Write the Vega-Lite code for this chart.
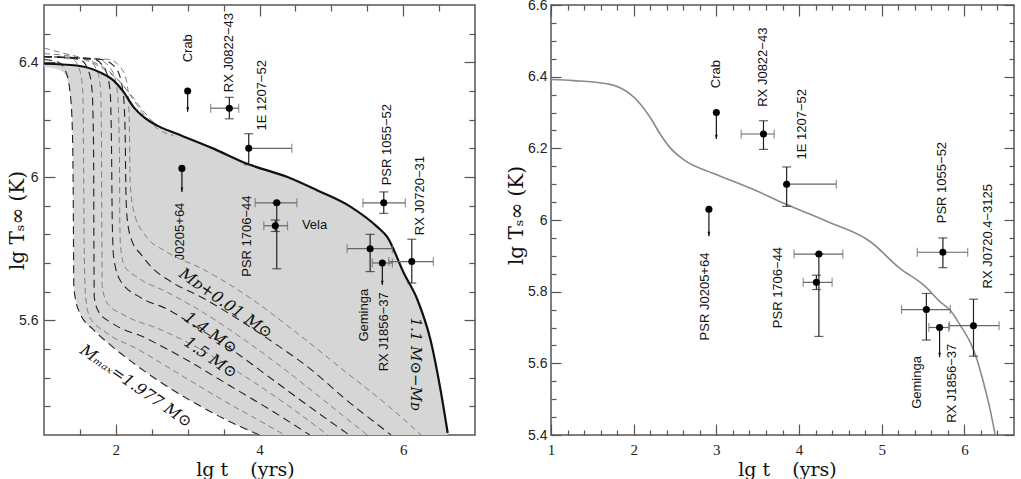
{
  "$schema": "https://vega.github.io/schema/vega-lite/v6.json",
  "padding": {"left": 6, "top": -3, "right": 0, "bottom": 0},
  "background": "white",
  "bounds": "flush",
  "spacing": 76,
  "config": {
    "view": {"stroke": "#555", "strokeWidth": 1.5},
    "axis": {"domain": false, "grid": false, "tickColor": "#555", "tickWidth": 1.2, "labelColor": "#222", "titleColor": "#111", "titleFontWeight": "normal", "labelFlush": false, "labelOverlap": false, "labelBound": false}
  },
  "datasets": {
    "leftCurve": [
      {"x": 1.0, "y": 6.395}, {"x": 1.455, "y": 6.389}, {"x": 1.78, "y": 6.365}, {"x": 1.97, "y": 6.336}, {"x": 2.11, "y": 6.296}, {"x": 2.25, "y": 6.243}, {"x": 2.39, "y": 6.209}, {"x": 2.57, "y": 6.18}, {"x": 2.85, "y": 6.151}, {"x": 3.36, "y": 6.099}, {"x": 3.83, "y": 6.046}, {"x": 4.39, "y": 6.0}, {"x": 4.8, "y": 5.954}, {"x": 5.27, "y": 5.896}, {"x": 5.64, "y": 5.826}, {"x": 5.78, "y": 5.79}, {"x": 6.01, "y": 5.664}, {"x": 6.2, "y": 5.571}, {"x": 6.38, "y": 5.432}, {"x": 6.52, "y": 5.258}, {"x": 6.62, "y": 5.107}
    ],
    "leftShade": [
      {"x": 1.0, "y": 6.395, "y2": 6.385}, {"x": 1.2, "y": 6.392, "y2": 6.375}, {"x": 1.3, "y": 6.391, "y2": 6.355}, {"x": 1.36, "y": 6.39, "y2": 6.3}, {"x": 1.39, "y": 6.39, "y2": 6.2}, {"x": 1.405, "y": 6.389, "y2": 6.0}, {"x": 1.41, "y": 6.389, "y2": 5.8}, {"x": 1.415, "y": 6.389, "y2": 5.62}, {"x": 1.455, "y": 6.389, "y2": 5.555}, {"x": 1.5, "y": 6.388, "y2": 5.525}, {"x": 1.69, "y": 6.372, "y2": 5.467}, {"x": 1.78, "y": 6.365, "y2": 5.448}, {"x": 1.92, "y": 6.342, "y2": 5.415}, {"x": 1.97, "y": 6.336, "y2": 5.405}, {"x": 2.11, "y": 6.296, "y2": 5.378}, {"x": 2.25, "y": 6.243, "y2": 5.35}, {"x": 2.39, "y": 6.209, "y2": 5.326}, {"x": 2.57, "y": 6.18, "y2": 5.295}, {"x": 2.71, "y": 6.165, "y2": 5.27}, {"x": 2.85, "y": 6.151, "y2": 5.25}, {"x": 3.18, "y": 6.117, "y2": 5.2}, {"x": 3.36, "y": 6.099, "y2": 5.177}, {"x": 3.64, "y": 6.069, "y2": 5.14}, {"x": 3.83, "y": 6.046, "y2": 5.118}, {"x": 4.0, "y": 6.03, "y2": 5.1}, {"x": 4.39, "y": 6.0, "y2": 5.1}, {"x": 4.8, "y": 5.954, "y2": 5.1}, {"x": 5.27, "y": 5.896, "y2": 5.1}, {"x": 5.64, "y": 5.826, "y2": 5.1}, {"x": 5.78, "y": 5.79, "y2": 5.1}, {"x": 6.01, "y": 5.664, "y2": 5.1}, {"x": 6.2, "y": 5.571, "y2": 5.1}, {"x": 6.38, "y": 5.432, "y2": 5.1}, {"x": 6.52, "y": 5.258, "y2": 5.1}, {"x": 6.62, "y": 5.107, "y2": 5.1}
    ],
    "leftDashDark": [
      {"id": "Mmax", "x": 1.0, "y": 6.41}, {"id": "Mmax", "x": 1.2, "y": 6.4}, {"id": "Mmax", "x": 1.3, "y": 6.37}, {"id": "Mmax", "x": 1.36, "y": 6.3}, {"id": "Mmax", "x": 1.39, "y": 6.2}, {"id": "Mmax", "x": 1.405, "y": 6.0}, {"id": "Mmax", "x": 1.41, "y": 5.8}, {"id": "Mmax", "x": 1.415, "y": 5.62}, {"id": "Mmax", "x": 1.45, "y": 5.56}, {"id": "Mmax", "x": 1.5, "y": 5.525}, {"id": "Mmax", "x": 1.69, "y": 5.467}, {"id": "Mmax", "x": 1.92, "y": 5.415}, {"id": "Mmax", "x": 2.25, "y": 5.35}, {"id": "Mmax", "x": 2.71, "y": 5.27}, {"id": "Mmax", "x": 3.18, "y": 5.2}, {"id": "Mmax", "x": 3.64, "y": 5.14}, {"id": "Mmax", "x": 4.0, "y": 5.1},
      {"id": "MD", "x": 1.0, "y": 6.42}, {"id": "MD", "x": 1.8, "y": 6.41}, {"id": "MD", "x": 2.0, "y": 6.38}, {"id": "MD", "x": 2.1, "y": 6.3}, {"id": "MD", "x": 2.13, "y": 6.15}, {"id": "MD", "x": 2.14, "y": 5.95}, {"id": "MD", "x": 2.16, "y": 5.85}, {"id": "MD", "x": 2.22, "y": 5.78}, {"id": "MD", "x": 2.35, "y": 5.73}, {"id": "MD", "x": 2.48, "y": 5.69}, {"id": "MD", "x": 2.8, "y": 5.63}, {"id": "MD", "x": 3.2, "y": 5.58}, {"id": "MD", "x": 3.6, "y": 5.52}, {"id": "MD", "x": 4.15, "y": 5.43}, {"id": "MD", "x": 4.71, "y": 5.33}, {"id": "MD", "x": 5.22, "y": 5.22}, {"id": "MD", "x": 5.78, "y": 5.11}, {"id": "MD", "x": 5.83, "y": 5.1},
      {"id": "M14", "x": 1.0, "y": 6.42}, {"id": "M14", "x": 1.7, "y": 6.41}, {"id": "M14", "x": 1.86, "y": 6.37}, {"id": "M14", "x": 1.92, "y": 6.3}, {"id": "M14", "x": 1.94, "y": 6.1}, {"id": "M14", "x": 1.95, "y": 5.85}, {"id": "M14", "x": 1.97, "y": 5.72}, {"id": "M14", "x": 2.06, "y": 5.64}, {"id": "M14", "x": 2.34, "y": 5.58}, {"id": "M14", "x": 2.71, "y": 5.54}, {"id": "M14", "x": 3.1, "y": 5.48}, {"id": "M14", "x": 3.6, "y": 5.4}, {"id": "M14", "x": 4.2, "y": 5.29}, {"id": "M14", "x": 4.8, "y": 5.18}, {"id": "M14", "x": 5.25, "y": 5.1},
      {"id": "M15", "x": 1.0, "y": 6.42}, {"id": "M15", "x": 1.5, "y": 6.41}, {"id": "M15", "x": 1.62, "y": 6.37}, {"id": "M15", "x": 1.67, "y": 6.3}, {"id": "M15", "x": 1.69, "y": 6.1}, {"id": "M15", "x": 1.695, "y": 5.75}, {"id": "M15", "x": 1.7, "y": 5.58}, {"id": "M15", "x": 1.76, "y": 5.53}, {"id": "M15", "x": 1.95, "y": 5.49}, {"id": "M15", "x": 2.4, "y": 5.44}, {"id": "M15", "x": 3.0, "y": 5.36}, {"id": "M15", "x": 3.6, "y": 5.27}, {"id": "M15", "x": 4.2, "y": 5.18}, {"id": "M15", "x": 4.7, "y": 5.1}
    ],
    "leftDashGray": [
      {"id": "e", "x": 1.0, "y": 6.42}, {"id": "e", "x": 1.6, "y": 6.41}, {"id": "e", "x": 1.74, "y": 6.37}, {"id": "e", "x": 1.79, "y": 6.3}, {"id": "e", "x": 1.8, "y": 6.1}, {"id": "e", "x": 1.805, "y": 5.8}, {"id": "e", "x": 1.81, "y": 5.62}, {"id": "e", "x": 1.88, "y": 5.56}, {"id": "e", "x": 2.1, "y": 5.52}, {"id": "e", "x": 2.6, "y": 5.47}, {"id": "e", "x": 3.1, "y": 5.41}, {"id": "e", "x": 3.7, "y": 5.32}, {"id": "e", "x": 4.3, "y": 5.22}, {"id": "e", "x": 4.95, "y": 5.1},
      {"id": "f", "x": 1.0, "y": 6.42}, {"id": "f", "x": 1.75, "y": 6.41}, {"id": "f", "x": 1.95, "y": 6.37}, {"id": "f", "x": 2.02, "y": 6.3}, {"id": "f", "x": 2.05, "y": 6.1}, {"id": "f", "x": 2.055, "y": 5.85}, {"id": "f", "x": 2.065, "y": 5.76}, {"id": "f", "x": 2.12, "y": 5.69}, {"id": "f", "x": 2.3, "y": 5.65}, {"id": "f", "x": 2.7, "y": 5.6}, {"id": "f", "x": 3.2, "y": 5.53}, {"id": "f", "x": 3.8, "y": 5.43}, {"id": "f", "x": 4.5, "y": 5.3}, {"id": "f", "x": 5.05, "y": 5.19}, {"id": "f", "x": 5.5, "y": 5.1},
      {"id": "d", "x": 1.0, "y": 6.42}, {"id": "d", "x": 1.4, "y": 6.41}, {"id": "d", "x": 1.5, "y": 6.37}, {"id": "d", "x": 1.54, "y": 6.3}, {"id": "d", "x": 1.55, "y": 6.1}, {"id": "d", "x": 1.56, "y": 5.75}, {"id": "d", "x": 1.58, "y": 5.58}, {"id": "d", "x": 1.64, "y": 5.51}, {"id": "d", "x": 1.85, "y": 5.46}, {"id": "d", "x": 2.3, "y": 5.4}, {"id": "d", "x": 2.9, "y": 5.31}, {"id": "d", "x": 3.5, "y": 5.22}, {"id": "d", "x": 4.0, "y": 5.15}, {"id": "d", "x": 4.35, "y": 5.1},
      {"id": "h", "x": 1.0, "y": 6.42}, {"id": "h", "x": 1.9, "y": 6.41}, {"id": "h", "x": 2.1, "y": 6.37}, {"id": "h", "x": 2.17, "y": 6.3}, {"id": "h", "x": 2.19, "y": 6.15}, {"id": "h", "x": 2.2, "y": 5.98}, {"id": "h", "x": 2.25, "y": 5.88}, {"id": "h", "x": 2.4, "y": 5.8}, {"id": "h", "x": 2.7, "y": 5.74}, {"id": "h", "x": 3.2, "y": 5.68}, {"id": "h", "x": 3.8, "y": 5.59}, {"id": "h", "x": 4.5, "y": 5.46}, {"id": "h", "x": 5.2, "y": 5.32}, {"id": "h", "x": 5.8, "y": 5.2}, {"id": "h", "x": 6.25, "y": 5.1},
      {"id": "u1", "x": 1.0, "y": 6.45}, {"id": "u1", "x": 1.3, "y": 6.43}, {"id": "u1", "x": 1.6, "y": 6.41}, {"id": "u1", "x": 1.9, "y": 6.37}, {"id": "u1", "x": 2.1, "y": 6.32}, {"id": "u1", "x": 2.3, "y": 6.25}, {"id": "u1", "x": 2.45, "y": 6.2}, {"id": "u1", "x": 2.6, "y": 6.165}, {"id": "u1", "x": 2.8, "y": 6.145},
      {"id": "u2", "x": 1.0, "y": 6.43}, {"id": "u2", "x": 1.4, "y": 6.42}, {"id": "u2", "x": 1.7, "y": 6.395}, {"id": "u2", "x": 2.0, "y": 6.345}, {"id": "u2", "x": 2.2, "y": 6.29}, {"id": "u2", "x": 2.4, "y": 6.225}, {"id": "u2", "x": 2.55, "y": 6.185}, {"id": "u2", "x": 2.7, "y": 6.16}
    ],
    "leftPts": [
      {"x": 3.0, "y": 6.3}, {"x": 3.58, "y": 6.24}, {"x": 3.85, "y": 6.1}, {"x": 2.92, "y": 6.03}, {"x": 4.24, "y": 5.91}, {"x": 4.22, "y": 5.83}, {"x": 5.73, "y": 5.91}, {"x": 5.54, "y": 5.75}, {"x": 5.71, "y": 5.7}, {"x": 6.12, "y": 5.705}
    ],
    "leftXerr": [
      {"x": 3.32, "x2": 3.71, "y": 6.24}, {"x": 3.85, "x2": 4.45, "y": 6.1}, {"x": 3.94, "x2": 4.52, "y": 5.91}, {"x": 4.06, "x2": 4.39, "y": 5.83}, {"x": 5.44, "x2": 6.03, "y": 5.91}, {"x": 5.22, "x2": 5.85, "y": 5.75}, {"x": 5.57, "x2": 5.85, "y": 5.7}, {"x": 5.8, "x2": 6.42, "y": 5.705}
    ],
    "leftYerr": [
      {"x": 3.58, "y": 6.203, "y2": 6.278}, {"x": 3.85, "y": 6.043, "y2": 6.151}, {"x": 4.24, "y": 5.68, "y2": 5.91}, {"x": 4.22, "y": 5.81, "y2": 5.85}, {"x": 5.73, "y": 5.873, "y2": 5.948}, {"x": 5.54, "y": 5.67, "y2": 5.8}, {"x": 6.12, "y": 5.63, "y2": 5.783}
    ],
    "leftArrows": [
      {"x": 3.0, "y": 6.3, "y2": 6.228}, {"x": 2.92, "y": 6.03, "y2": 5.948}, {"x": 5.71, "y": 5.7, "y2": 5.623}
    ],
    "leftLabels": [
      {"x": 3.0, "y": 6.4, "label": "Crab"}, {"x": 3.57, "y": 6.296, "label": "RX J0822−43"}, {"x": 4.03, "y": 6.162, "label": "1E 1207−52"}, {"x": 2.9, "y": 5.71, "label": "J0205+64"}, {"x": 3.83, "y": 5.652, "label": "PSR 1706−44"}, {"x": 5.77, "y": 5.971, "label": "PSR 1055−52"}, {"x": 6.24, "y": 5.797, "label": "RX J0720−31"}, {"x": 5.46, "y": 5.426, "label": "Geminga"}, {"x": 5.73, "y": 5.322, "label": "RX J1856−37"}
    ],
    "leftVela": [{"x": 4.59, "y": 5.832, "label": "Vela"}],
    "leftMass": [
      {"x": 3.53, "y": 5.559, "label": "Mᴅ+0.01 M⊙"}, {"x": 3.32, "y": 5.456, "label": "1.4 M⊙"}, {"x": 3.32, "y": 5.37, "label": "1.5 M⊙"}, {"x": 2.28, "y": 5.27, "label": "Mₘₐₓ=1.977 M⊙"}
    ],
    "leftMD": [{"x": 6.18, "y": 5.51, "label": "1.1 M⊙−Mᴅ"}],
    "rightCurve": [
      {"x": 1.0, "y": 6.392}, {"x": 1.27, "y": 6.389}, {"x": 1.675, "y": 6.38}, {"x": 1.835, "y": 6.369}, {"x": 1.956, "y": 6.352}, {"x": 2.08, "y": 6.324}, {"x": 2.2, "y": 6.286}, {"x": 2.32, "y": 6.24}, {"x": 2.44, "y": 6.202}, {"x": 2.6, "y": 6.169}, {"x": 3.0, "y": 6.127}, {"x": 3.45, "y": 6.085}, {"x": 3.85, "y": 6.043}, {"x": 4.34, "y": 5.996}, {"x": 4.86, "y": 5.94}, {"x": 5.22, "y": 5.865}, {"x": 5.51, "y": 5.818}, {"x": 5.71, "y": 5.771}, {"x": 5.83, "y": 5.748}, {"x": 5.95, "y": 5.706}, {"x": 6.07, "y": 5.659}, {"x": 6.15, "y": 5.612}, {"x": 6.23, "y": 5.547}, {"x": 6.31, "y": 5.472}, {"x": 6.375, "y": 5.397}
    ],
    "rightPts": [
      {"x": 3.0, "y": 6.3}, {"x": 3.57, "y": 6.24}, {"x": 3.85, "y": 6.1}, {"x": 2.91, "y": 6.03}, {"x": 4.24, "y": 5.905}, {"x": 4.21, "y": 5.826}, {"x": 5.74, "y": 5.91}, {"x": 5.54, "y": 5.75}, {"x": 5.7, "y": 5.7}, {"x": 6.11, "y": 5.705}
    ],
    "rightXerr": [
      {"x": 3.3, "x2": 3.7, "y": 6.24}, {"x": 3.85, "x2": 4.45, "y": 6.1}, {"x": 3.94, "x2": 4.53, "y": 5.905}, {"x": 4.05, "x2": 4.4, "y": 5.826}, {"x": 5.43, "x2": 6.04, "y": 5.91}, {"x": 5.24, "x2": 5.83, "y": 5.75}, {"x": 5.57, "x2": 5.81, "y": 5.7}, {"x": 5.82, "x2": 6.42, "y": 5.705}
    ],
    "rightYerr": [
      {"x": 3.57, "y": 6.197, "y2": 6.277}, {"x": 3.85, "y": 6.038, "y2": 6.148}, {"x": 4.24, "y": 5.675, "y2": 5.905}, {"x": 4.21, "y": 5.806, "y2": 5.846}, {"x": 5.74, "y": 5.867, "y2": 5.95}, {"x": 5.54, "y": 5.665, "y2": 5.795}, {"x": 6.11, "y": 5.62, "y2": 5.779}
    ],
    "rightArrows": [
      {"x": 3.0, "y": 6.3, "y2": 6.226}, {"x": 2.91, "y": 6.03, "y2": 5.955}, {"x": 5.7, "y": 5.7, "y2": 5.617}
    ],
    "rightLabels": [
      {"x": 2.99, "y": 6.368, "label": "Crab"}, {"x": 3.57, "y": 6.316, "label": "RX J0822−43"}, {"x": 4.04, "y": 6.169, "label": "1E 1207−52"}, {"x": 2.86, "y": 5.664, "label": "PSR J0205+64"}, {"x": 3.75, "y": 5.698, "label": "PSR 1706−44"}, {"x": 5.73, "y": 5.991, "label": "PSR 1055−52"}, {"x": 6.29, "y": 5.809, "label": "RX J0720.4−3125"}, {"x": 5.43, "y": 5.473, "label": "Geminga"}, {"x": 5.85, "y": 5.434, "label": "RX J1856−37"}
    ]
  },
  "hconcat": [
    {
      "width": 431,
      "height": 430,
      "encoding": {
        "x": {"field": "x", "type": "quantitative", "scale": {"domain": [1, 7], "nice": false, "zero": false}, "axis": null},
        "y": {"field": "y", "type": "quantitative", "scale": {"domain": [5.1, 6.6], "nice": false, "zero": false}, "axis": null}
      },
      "layer": [
        {"data": {"name": "leftShade"}, "mark": {"type": "area", "color": "#d6d6d6", "interpolate": "monotone", "clip": true}, "encoding": {"y2": {"field": "y2"}}},
        {"data": {"name": "leftDashGray"}, "mark": {"type": "line", "color": "#808080", "strokeWidth": 1, "strokeDash": [6, 4], "interpolate": "monotone", "clip": true}, "encoding": {"detail": {"field": "id"}}},
        {"data": {"name": "leftDashDark"}, "mark": {"type": "line", "color": "#222", "strokeWidth": 1.1, "strokeDash": [8, 5], "interpolate": "monotone", "clip": true}, "encoding": {"detail": {"field": "id"}}},
        {"data": {"name": "leftCurve"}, "mark": {"type": "line", "color": "#111", "strokeWidth": 2.2, "interpolate": "monotone", "clip": true}},
        {"data": {"name": "leftXerr"}, "mark": {"type": "rule", "color": "#666", "strokeWidth": 1.2}, "encoding": {"x2": {"field": "x2"}}},
        {"data": {"name": "leftXerr"}, "mark": {"type": "tick", "orient": "vertical", "color": "#666", "size": 9, "thickness": 1.2}},
        {"data": {"name": "leftXerr"}, "mark": {"type": "tick", "orient": "vertical", "color": "#666", "size": 9, "thickness": 1.2}, "encoding": {"x": {"field": "x2", "type": "quantitative", "axis": null}}},
        {"data": {"name": "leftYerr"}, "mark": {"type": "rule", "color": "#222", "strokeWidth": 1.2}, "encoding": {"y2": {"field": "y2"}}},
        {"data": {"name": "leftYerr"}, "mark": {"type": "tick", "orient": "horizontal", "color": "#222", "size": 9, "thickness": 1.2}},
        {"data": {"name": "leftYerr"}, "mark": {"type": "tick", "orient": "horizontal", "color": "#222", "size": 9, "thickness": 1.2}, "encoding": {"y": {"field": "y2", "type": "quantitative", "axis": null}}},
        {"data": {"name": "leftArrows"}, "mark": {"type": "rule", "color": "#111", "strokeWidth": 1.2}, "encoding": {"y2": {"field": "y2"}}},
        {"data": {"name": "leftArrows"}, "mark": {"type": "point", "shape": "M-0.5,-1.6L0,0L0.5,-1.6Z", "filled": true, "color": "#111", "size": 30, "opacity": 1}, "encoding": {"y": {"field": "y2", "type": "quantitative", "axis": null}}},
        {"data": {"name": "leftPts"}, "mark": {"type": "point", "shape": "circle", "filled": true, "color": "#000", "size": 50, "opacity": 1}},
        {"data": {"name": "leftLabels"}, "mark": {"type": "text", "angle": 270, "align": "left", "baseline": "middle", "font": "Liberation Sans", "fontSize": 13, "color": "#111"}, "encoding": {"text": {"field": "label"}}},
        {"data": {"name": "leftVela"}, "mark": {"type": "text", "align": "left", "baseline": "middle", "font": "Liberation Sans", "fontSize": 13, "color": "#111"}, "encoding": {"text": {"field": "label"}}},
        {"data": {"name": "leftMass"}, "mark": {"type": "text", "angle": 35, "align": "center", "baseline": "middle", "font": "DejaVu Serif", "fontSize": 16, "fontStyle": "italic", "color": "#111"}, "encoding": {"text": {"field": "label"}}},
        {"data": {"name": "leftMD"}, "mark": {"type": "text", "angle": 90, "align": "left", "baseline": "middle", "font": "DejaVu Serif", "fontSize": 15, "fontStyle": "italic", "color": "#111"}, "encoding": {"text": {"field": "label"}}},
        {"data": {"name": "leftCurve"}, "mark": {"type": "line", "opacity": 0},
          "encoding": {
            "x": {"field": "x", "type": "quantitative", "axis": {"orient": "bottom", "values": [2, 4, 6], "tickSize": -11, "labelPadding": 18, "labelFont": "Liberation Serif", "labelFontSize": 15, "title": "lg t\u2003\u2006(yrs)", "titleFont": "DejaVu Serif", "titleFontSize": 19, "titleX": 201, "titleY": 34, "titleBaseline": "middle", "titleAlign": "center"}},
            "y": {"field": "y", "type": "quantitative", "axis": {"orient": "left", "values": [6.4, 6.0, 5.5], "labelExpr": "datum.value < 5.7 ? '5.6' : (datum.value < 6.2 ? '6' : '6.4')", "tickSize": -11, "labelPadding": 17, "labelFont": "Liberation Sans", "labelFontSize": 14, "title": "lg Tₛ∞ (K)", "titleFont": "DejaVu Serif", "titleFontSize": 20, "titleX": -27, "titleY": 215, "titleAngle": -90, "titleBaseline": "middle", "titleAlign": "center"}}
          }},
        {"data": {"name": "leftCurve"}, "mark": {"type": "line", "opacity": 0},
          "encoding": {
            "x": {"field": "x", "type": "quantitative", "axis": {"orient": "bottom", "values": [1.5, 2.5, 3, 3.5, 4.5, 5, 5.5, 6.5], "tickSize": -6, "labels": false, "title": null}},
            "y": {"field": "y", "type": "quantitative", "axis": {"orient": "left", "values": [6.5, 6.3, 6.2, 6.1, 5.9, 5.8, 5.7, 5.6, 5.4, 5.3, 5.2], "tickSize": -6, "labels": false, "title": null}}
          }},
        {"data": {"name": "leftCurve"}, "mark": {"type": "line", "opacity": 0},
          "encoding": {
            "x": {"field": "x", "type": "quantitative", "axis": {"orient": "top", "values": [2, 4, 6], "tickSize": -11, "labels": false, "title": null}},
            "y": {"field": "y", "type": "quantitative", "axis": {"orient": "right", "values": [6.4, 6.0, 5.5], "tickSize": -11, "labels": false, "title": null}}
          }},
        {"data": {"name": "leftCurve"}, "mark": {"type": "line", "opacity": 0},
          "encoding": {
            "x": {"field": "x", "type": "quantitative", "axis": {"orient": "top", "values": [1.5, 2.5, 3, 3.5, 4.5, 5, 5.5, 6.5], "tickSize": -6, "labels": false, "title": null}},
            "y": {"field": "y", "type": "quantitative", "axis": {"orient": "right", "values": [6.5, 6.3, 6.2, 6.1, 5.9, 5.8, 5.7, 5.6, 5.4, 5.3, 5.2], "tickSize": -6, "labels": false, "title": null}}
          }}
      ],
      "resolve": {"axis": {"x": "independent", "y": "independent"}}
    },
    {
      "width": 463,
      "height": 430,
      "encoding": {
        "x": {"field": "x", "type": "quantitative", "scale": {"domain": [1, 6.6], "nice": false, "zero": false}, "axis": null},
        "y": {"field": "y", "type": "quantitative", "scale": {"domain": [5.4, 6.6], "nice": false, "zero": false}, "axis": null}
      },
      "layer": [
        {"data": {"name": "rightCurve"}, "mark": {"type": "line", "color": "#8a8a8a", "strokeWidth": 1.6, "interpolate": "monotone", "clip": true}},
        {"data": {"name": "rightXerr"}, "mark": {"type": "rule", "color": "#666", "strokeWidth": 1.2}, "encoding": {"x2": {"field": "x2"}}},
        {"data": {"name": "rightXerr"}, "mark": {"type": "tick", "orient": "vertical", "color": "#666", "size": 9, "thickness": 1.2}},
        {"data": {"name": "rightXerr"}, "mark": {"type": "tick", "orient": "vertical", "color": "#666", "size": 9, "thickness": 1.2}, "encoding": {"x": {"field": "x2", "type": "quantitative", "axis": null}}},
        {"data": {"name": "rightYerr"}, "mark": {"type": "rule", "color": "#222", "strokeWidth": 1.2}, "encoding": {"y2": {"field": "y2"}}},
        {"data": {"name": "rightYerr"}, "mark": {"type": "tick", "orient": "horizontal", "color": "#222", "size": 9, "thickness": 1.2}},
        {"data": {"name": "rightYerr"}, "mark": {"type": "tick", "orient": "horizontal", "color": "#222", "size": 9, "thickness": 1.2}, "encoding": {"y": {"field": "y2", "type": "quantitative", "axis": null}}},
        {"data": {"name": "rightArrows"}, "mark": {"type": "rule", "color": "#111", "strokeWidth": 1.2}, "encoding": {"y2": {"field": "y2"}}},
        {"data": {"name": "rightArrows"}, "mark": {"type": "point", "shape": "M-0.5,-1.6L0,0L0.5,-1.6Z", "filled": true, "color": "#111", "size": 30, "opacity": 1}, "encoding": {"y": {"field": "y2", "type": "quantitative", "axis": null}}},
        {"data": {"name": "rightPts"}, "mark": {"type": "point", "shape": "circle", "filled": true, "color": "#000", "size": 50, "opacity": 1}},
        {"data": {"name": "rightLabels"}, "mark": {"type": "text", "angle": 270, "align": "left", "baseline": "middle", "font": "Liberation Sans", "fontSize": 13, "color": "#111"}, "encoding": {"text": {"field": "label"}}},
        {"data": {"name": "rightCurve"}, "mark": {"type": "line", "opacity": 0},
          "encoding": {
            "x": {"field": "x", "type": "quantitative", "axis": {"orient": "bottom", "values": [1, 2, 3, 4, 5, 6], "tickSize": -11, "labelPadding": 18, "labelFont": "Liberation Serif", "labelFontSize": 15, "title": "lg t\u2003\u2006(yrs)", "titleFont": "DejaVu Serif", "titleFontSize": 19, "titleX": 236, "titleY": 34, "titleBaseline": "middle", "titleAlign": "center"}},
            "y": {"field": "y", "type": "quantitative", "axis": {"orient": "left", "values": [5.4, 5.6, 5.8, 6.0, 6.2, 6.4, 6.6], "labelExpr": "datum.value == 6 ? '6' : format(datum.value, '.1f')", "tickSize": -10, "labelPadding": 14, "labelFont": "Liberation Sans", "labelFontSize": 14, "title": "lg Tₛ∞ (K)", "titleFont": "DejaVu Serif", "titleFontSize": 20, "titleX": -35, "titleY": 210, "titleAngle": -90, "titleBaseline": "middle", "titleAlign": "center"}}
          }},
        {"data": {"name": "rightCurve"}, "mark": {"type": "line", "opacity": 0},
          "encoding": {
            "x": {"field": "x", "type": "quantitative", "axis": {"orient": "bottom", "values": [1.2, 1.4, 1.6, 1.8, 2.2, 2.4, 2.6, 2.8, 3.2, 3.4, 3.6, 3.8, 4.2, 4.4, 4.6, 4.8, 5.2, 5.4, 5.6, 5.8, 6.2, 6.4], "tickSize": -5, "labels": false, "title": null}},
            "y": {"field": "y", "type": "quantitative", "axis": {"orient": "left", "values": [5.45, 5.5, 5.55, 5.65, 5.7, 5.75, 5.85, 5.9, 5.95, 6.05, 6.1, 6.15, 6.25, 6.3, 6.35, 6.45, 6.5, 6.55], "tickSize": -5, "labels": false, "title": null}}
          }},
        {"data": {"name": "rightCurve"}, "mark": {"type": "line", "opacity": 0},
          "encoding": {
            "x": {"field": "x", "type": "quantitative", "axis": {"orient": "top", "values": [1, 2, 3, 4, 5, 6], "tickSize": -11, "labels": false, "title": null}},
            "y": {"field": "y", "type": "quantitative", "axis": {"orient": "right", "values": [5.4, 5.6, 5.8, 6.0, 6.2, 6.4, 6.6], "tickSize": -10, "labels": false, "title": null}}
          }},
        {"data": {"name": "rightCurve"}, "mark": {"type": "line", "opacity": 0},
          "encoding": {
            "x": {"field": "x", "type": "quantitative", "axis": {"orient": "top", "values": [1.2, 1.4, 1.6, 1.8, 2.2, 2.4, 2.6, 2.8, 3.2, 3.4, 3.6, 3.8, 4.2, 4.4, 4.6, 4.8, 5.2, 5.4, 5.6, 5.8, 6.2, 6.4], "tickSize": -5, "labels": false, "title": null}},
            "y": {"field": "y", "type": "quantitative", "axis": {"orient": "right", "values": [5.45, 5.5, 5.55, 5.65, 5.7, 5.75, 5.85, 5.9, 5.95, 6.05, 6.1, 6.15, 6.25, 6.3, 6.35, 6.45, 6.5, 6.55], "tickSize": -5, "labels": false, "title": null}}
          }}
      ],
      "resolve": {"axis": {"x": "independent", "y": "independent"}}
    }
  ]
}
